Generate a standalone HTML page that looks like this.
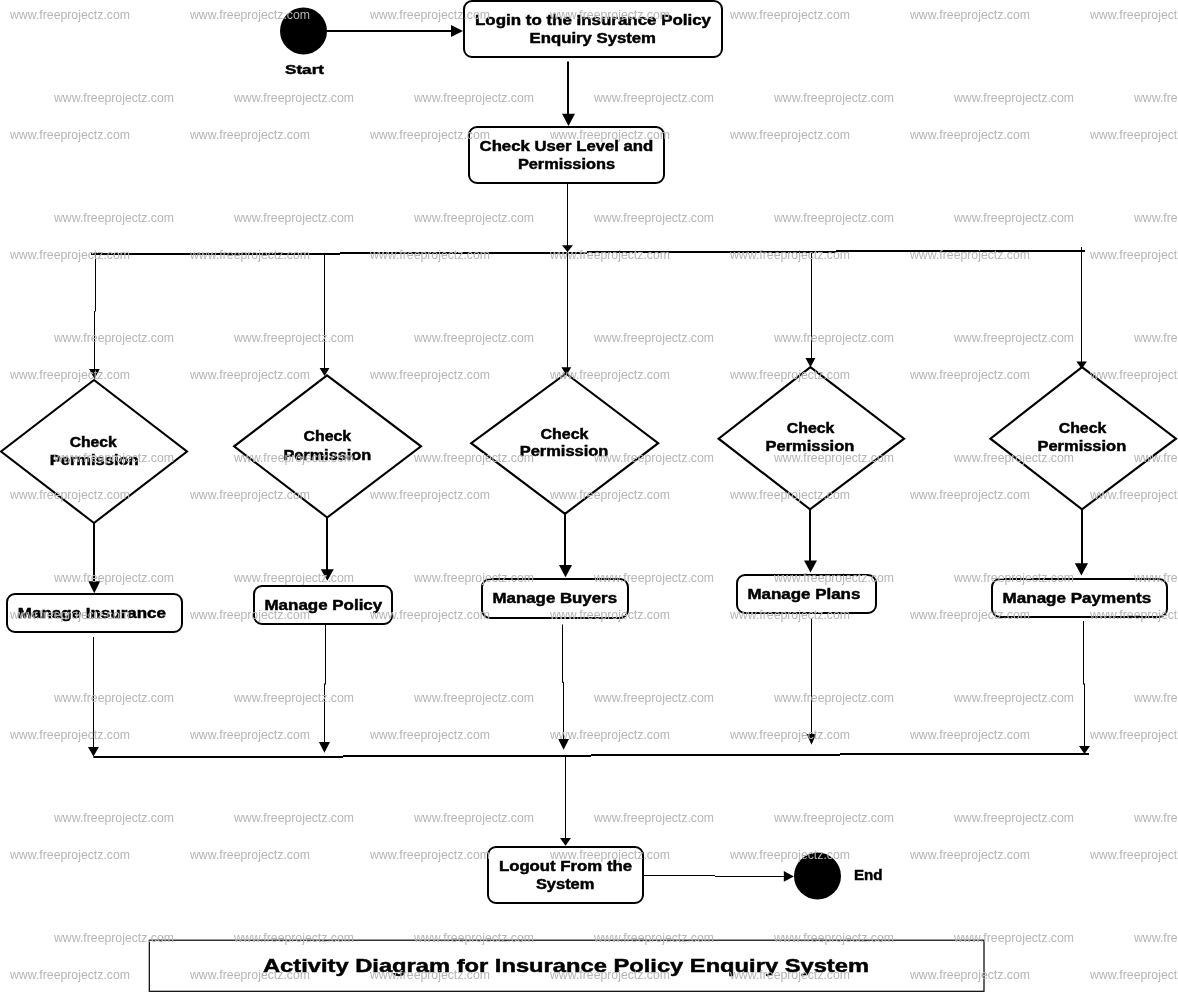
<!DOCTYPE html>
<html><head><meta charset="utf-8"><style>
html,body{margin:0;padding:0;background:#fff;width:1178px;height:994px;overflow:hidden}
svg{display:block;will-change:transform}
text{font-family:"Liberation Sans", sans-serif}
</style></head><body>
<svg width="1178" height="994" viewBox="0 0 1178 994">
<rect width="1178" height="994" fill="#fff"/>
<g>
<circle cx="303.5" cy="31" r="23.5" fill="#000"/>
<text x="285.0" y="74.4" font-size="13.5" font-weight="bold" textLength="39.0" lengthAdjust="spacingAndGlyphs" fill="#000" stroke="#000" stroke-width="0.45">Start</text>
<line x1="327" y1="31" x2="452" y2="31" stroke="#000" stroke-width="2"/>
<polygon points="451,25 463,31.0 451,37" fill="#000"/>
<rect x="464.0" y="1.0" width="258" height="56" rx="8" ry="8" fill="#fff" stroke="#000" stroke-width="2"/>
<text x="475.0" y="25.0" font-size="14" font-weight="bold" textLength="236.0" lengthAdjust="spacingAndGlyphs" fill="#000" stroke="#000" stroke-width="0.45">Login to the Insurance Policy</text>
<text x="529.6" y="42.8" font-size="14" font-weight="bold" textLength="126.4" lengthAdjust="spacingAndGlyphs" fill="#000" stroke="#000" stroke-width="0.45">Enquiry System</text>
<line x1="568" y1="61.5" x2="568" y2="115" stroke="#000" stroke-width="2"/>
<polygon points="562,113.7 575,113.7 568.5,126" fill="#000"/>
<rect x="469.0" y="127.0" width="195" height="56" rx="8" ry="8" fill="#fff" stroke="#000" stroke-width="2"/>
<text x="479.6" y="150.7" font-size="14" font-weight="bold" textLength="173.7" lengthAdjust="spacingAndGlyphs" fill="#000" stroke="#000" stroke-width="0.45">Check User Level and</text>
<text x="517.9" y="168.8" font-size="14" font-weight="bold" textLength="97.1" lengthAdjust="spacingAndGlyphs" fill="#000" stroke="#000" stroke-width="0.45">Permissions</text>
<line x1="567.5" y1="183" x2="567.5" y2="368" stroke="#000" stroke-width="1"/>
<polygon points="562,245.2 573,245.2 567.5,252" fill="#000"/>
<line x1="91" y1="254" x2="340" y2="254" stroke="#000" stroke-width="2"/>
<line x1="340" y1="253" x2="587" y2="253" stroke="#000" stroke-width="2"/>
<line x1="587" y1="252" x2="836" y2="252" stroke="#000" stroke-width="2"/>
<line x1="836" y1="251" x2="1085" y2="251" stroke="#000" stroke-width="2"/>
<line x1="95.5" y1="254" x2="95.5" y2="311.5" stroke="#000" stroke-width="1"/>
<line x1="94.5" y1="311" x2="94.5" y2="370" stroke="#000" stroke-width="1"/>
<polygon points="89.1,369 99.8,369 94.44999999999999,379" fill="#000"/>
<line x1="324.5" y1="253" x2="324.5" y2="369" stroke="#000" stroke-width="1"/>
<polygon points="319.6,368 329.5,368 324.55,376" fill="#000"/>
<line x1="811.5" y1="251" x2="811.5" y2="359" stroke="#000" stroke-width="1"/>
<polygon points="805.5,358.1 815.4,358.1 810.45,367.2" fill="#000"/>
<line x1="1081.5" y1="247" x2="1081.5" y2="362" stroke="#000" stroke-width="1"/>
<polygon points="1076.4,361.4 1086.9,361.4 1081.65,369" fill="#000"/>
<polygon points="561.4,367.2 571.3,367.2 566.3499999999999,375.3" fill="#000"/>
<polygon points="94,380 187,451.5 94,523 1,451.5" fill="#fff" stroke="#000" stroke-width="2.15" stroke-linejoin="miter"/>
<polygon points="327,375.3 421,446.3 327.2,517.5 234.1,446.3" fill="#fff" stroke="#000" stroke-width="2.15" stroke-linejoin="miter"/>
<polygon points="566,373.5 658.2,443.2 565,513.8 471.2,443.2" fill="#fff" stroke="#000" stroke-width="2.15" stroke-linejoin="miter"/>
<polygon points="810.4,367.2 904.1,438.7 810,509.3 718.6,438.7" fill="#fff" stroke="#000" stroke-width="2.15" stroke-linejoin="miter"/>
<polygon points="1082,367.2 1176,438.7 1082,509.3 990.4,438.7" fill="#fff" stroke="#000" stroke-width="2.15" stroke-linejoin="miter"/>
<text x="69.7" y="446.6" font-size="14" font-weight="bold" textLength="47.1" lengthAdjust="spacingAndGlyphs" fill="#000" stroke="#000" stroke-width="0.45">Check</text>
<text x="49.8" y="465.0" font-size="14" font-weight="bold" textLength="88.8" lengthAdjust="spacingAndGlyphs" fill="#000" stroke="#000" stroke-width="0.45">Permission</text>
<text x="303.6" y="441.4" font-size="14" font-weight="bold" textLength="47.6" lengthAdjust="spacingAndGlyphs" fill="#000" stroke="#000" stroke-width="0.45">Check</text>
<text x="283.4" y="459.5" font-size="14" font-weight="bold" textLength="87.8" lengthAdjust="spacingAndGlyphs" fill="#000" stroke="#000" stroke-width="0.45">Permission</text>
<text x="540.6" y="438.7" font-size="14" font-weight="bold" textLength="47.9" lengthAdjust="spacingAndGlyphs" fill="#000" stroke="#000" stroke-width="0.45">Check</text>
<text x="519.7" y="455.9" font-size="14" font-weight="bold" textLength="88.7" lengthAdjust="spacingAndGlyphs" fill="#000" stroke="#000" stroke-width="0.45">Permission</text>
<text x="786.8" y="433.2" font-size="14" font-weight="bold" textLength="47.6" lengthAdjust="spacingAndGlyphs" fill="#000" stroke="#000" stroke-width="0.45">Check</text>
<text x="765.6" y="450.8" font-size="14" font-weight="bold" textLength="88.7" lengthAdjust="spacingAndGlyphs" fill="#000" stroke="#000" stroke-width="0.45">Permission</text>
<text x="1058.7" y="433.2" font-size="14" font-weight="bold" textLength="47.6" lengthAdjust="spacingAndGlyphs" fill="#000" stroke="#000" stroke-width="0.45">Check</text>
<text x="1037.5" y="450.8" font-size="14" font-weight="bold" textLength="88.7" lengthAdjust="spacingAndGlyphs" fill="#000" stroke="#000" stroke-width="0.45">Permission</text>
<line x1="94" y1="523" x2="94" y2="582" stroke="#000" stroke-width="2"/>
<polygon points="88.3,581.3 100.2,581.3 94.25,593.2" fill="#000"/>
<line x1="327" y1="517.5" x2="327" y2="570" stroke="#000" stroke-width="2"/>
<polygon points="320.8,569.2 333.8,569.2 327.3,580.7" fill="#000"/>
<line x1="565" y1="514" x2="565" y2="565" stroke="#000" stroke-width="2"/>
<polygon points="559,564.9 572,564.9 565.5,577.2" fill="#000"/>
<line x1="810" y1="509" x2="810" y2="561" stroke="#000" stroke-width="2"/>
<polygon points="804,560.4 817,560.4 810.5,572.6" fill="#000"/>
<line x1="1082" y1="509" x2="1082" y2="564" stroke="#000" stroke-width="2"/>
<polygon points="1074.8,563.2 1088,563.2 1081.4,575.6" fill="#000"/>
<rect x="7.0" y="594.0" width="175" height="38" rx="8" ry="8" fill="#fff" stroke="#000" stroke-width="2"/>
<text x="17.8" y="617.8" font-size="14" font-weight="bold" textLength="148.2" lengthAdjust="spacingAndGlyphs" fill="#000" stroke="#000" stroke-width="0.45">Manage Insurance</text>
<rect x="254.0" y="586.0" width="138" height="38" rx="8" ry="8" fill="#fff" stroke="#000" stroke-width="2"/>
<text x="264.5" y="609.9" font-size="14" font-weight="bold" textLength="117.7" lengthAdjust="spacingAndGlyphs" fill="#000" stroke="#000" stroke-width="0.45">Manage Policy</text>
<rect x="482.0" y="579.0" width="146" height="39" rx="8" ry="8" fill="#fff" stroke="#000" stroke-width="2"/>
<text x="492.6" y="602.7" font-size="14" font-weight="bold" textLength="124.4" lengthAdjust="spacingAndGlyphs" fill="#000" stroke="#000" stroke-width="0.45">Manage Buyers</text>
<rect x="737.0" y="575.0" width="139" height="38" rx="8" ry="8" fill="#fff" stroke="#000" stroke-width="2"/>
<text x="747.5" y="598.6" font-size="14" font-weight="bold" textLength="112.8" lengthAdjust="spacingAndGlyphs" fill="#000" stroke="#000" stroke-width="0.45">Manage Plans</text>
<rect x="992.0" y="579.0" width="175" height="38" rx="8" ry="8" fill="#fff" stroke="#000" stroke-width="2"/>
<text x="1002.6" y="602.7" font-size="14" font-weight="bold" textLength="148.6" lengthAdjust="spacingAndGlyphs" fill="#000" stroke="#000" stroke-width="0.45">Manage Payments</text>
<line x1="93.5" y1="637" x2="93.5" y2="748" stroke="#000" stroke-width="1"/>
<polygon points="88,747 98.9,747 93.45,756.6" fill="#000"/>
<line x1="325.5" y1="625" x2="325.5" y2="684.5" stroke="#000" stroke-width="1"/>
<line x1="324.5" y1="683.5" x2="324.5" y2="743" stroke="#000" stroke-width="1"/>
<polygon points="318.9,742 330,742 324.45,752.8" fill="#000"/>
<line x1="562.5" y1="624.5" x2="562.5" y2="682.75" stroke="#000" stroke-width="1"/>
<line x1="563.5" y1="681.75" x2="563.5" y2="740" stroke="#000" stroke-width="1"/>
<polygon points="558.2,738.9 569,738.9 563.6,749.8" fill="#000"/>
<line x1="811.5" y1="618.4" x2="811.5" y2="735" stroke="#000" stroke-width="1"/>
<polygon points="806.7,733.9 816.2,733.9 811.45,744.8" fill="#000"/>
<line x1="1083.5" y1="621" x2="1083.5" y2="684.5" stroke="#000" stroke-width="1"/>
<line x1="1084.5" y1="683.5" x2="1084.5" y2="747" stroke="#000" stroke-width="1"/>
<polygon points="1079,746.1 1090,746.1 1084.5,754" fill="#000"/>
<line x1="93.4" y1="757" x2="343" y2="757" stroke="#000" stroke-width="2"/>
<line x1="343" y1="756" x2="591" y2="756" stroke="#000" stroke-width="2"/>
<line x1="591" y1="755" x2="840" y2="755" stroke="#000" stroke-width="2"/>
<line x1="840" y1="754" x2="1089" y2="754" stroke="#000" stroke-width="2"/>
<line x1="565.5" y1="756" x2="565.5" y2="839" stroke="#000" stroke-width="1"/>
<polygon points="560,838 571,838 565.5,845.7" fill="#000"/>
<rect x="488.0" y="847.0" width="155" height="56" rx="8" ry="8" fill="#fff" stroke="#000" stroke-width="2"/>
<text x="498.9" y="870.7" font-size="14" font-weight="bold" textLength="133.2" lengthAdjust="spacingAndGlyphs" fill="#000" stroke="#000" stroke-width="0.45">Logout From the</text>
<text x="535.9" y="888.5" font-size="14" font-weight="bold" textLength="58.5" lengthAdjust="spacingAndGlyphs" fill="#000" stroke="#000" stroke-width="0.45">System</text>
<line x1="643.5" y1="875.5" x2="715" y2="875.5" stroke="#000" stroke-width="1"/>
<line x1="715" y1="876.5" x2="785" y2="876.5" stroke="#000" stroke-width="1"/>
<polygon points="783.8,871 793.9,876.4 783.8,881.8" fill="#000"/>
<circle cx="817.5" cy="876" r="23.5" fill="#000"/>
<text x="853.9" y="879.8" font-size="14" font-weight="bold" textLength="28.5" lengthAdjust="spacingAndGlyphs" fill="#000" stroke="#000" stroke-width="0.45">End</text>
<rect x="149.3" y="940.2" width="834.7" height="51.1" fill="#fff" stroke="#000" stroke-width="1.2"/>
<text x="263.0" y="971.5" font-size="18.5" font-weight="bold" textLength="606.0" lengthAdjust="spacingAndGlyphs" fill="#000" stroke="#000" stroke-width="0.45">Activity Diagram for Insurance Policy Enquiry System</text>
</g>
<g font-size="12.2" fill="#b5b5b5">
<text x="10" y="19" textLength="120" lengthAdjust="spacingAndGlyphs">www.freeprojectz.com</text>
<text x="54" y="102" textLength="120" lengthAdjust="spacingAndGlyphs">www.freeprojectz.com</text>
<text x="190" y="19" textLength="120" lengthAdjust="spacingAndGlyphs">www.freeprojectz.com</text>
<text x="234" y="102" textLength="120" lengthAdjust="spacingAndGlyphs">www.freeprojectz.com</text>
<text x="370" y="19" textLength="120" lengthAdjust="spacingAndGlyphs">www.freeprojectz.com</text>
<text x="414" y="102" textLength="120" lengthAdjust="spacingAndGlyphs">www.freeprojectz.com</text>
<text x="550" y="19" textLength="120" lengthAdjust="spacingAndGlyphs">www.freeprojectz.com</text>
<text x="594" y="102" textLength="120" lengthAdjust="spacingAndGlyphs">www.freeprojectz.com</text>
<text x="730" y="19" textLength="120" lengthAdjust="spacingAndGlyphs">www.freeprojectz.com</text>
<text x="774" y="102" textLength="120" lengthAdjust="spacingAndGlyphs">www.freeprojectz.com</text>
<text x="910" y="19" textLength="120" lengthAdjust="spacingAndGlyphs">www.freeprojectz.com</text>
<text x="954" y="102" textLength="120" lengthAdjust="spacingAndGlyphs">www.freeprojectz.com</text>
<text x="1090" y="19" textLength="120" lengthAdjust="spacingAndGlyphs">www.freeprojectz.com</text>
<text x="1134" y="102" textLength="120" lengthAdjust="spacingAndGlyphs">www.freeprojectz.com</text>
<text x="10" y="139" textLength="120" lengthAdjust="spacingAndGlyphs">www.freeprojectz.com</text>
<text x="54" y="222" textLength="120" lengthAdjust="spacingAndGlyphs">www.freeprojectz.com</text>
<text x="190" y="139" textLength="120" lengthAdjust="spacingAndGlyphs">www.freeprojectz.com</text>
<text x="234" y="222" textLength="120" lengthAdjust="spacingAndGlyphs">www.freeprojectz.com</text>
<text x="370" y="139" textLength="120" lengthAdjust="spacingAndGlyphs">www.freeprojectz.com</text>
<text x="414" y="222" textLength="120" lengthAdjust="spacingAndGlyphs">www.freeprojectz.com</text>
<text x="550" y="139" textLength="120" lengthAdjust="spacingAndGlyphs">www.freeprojectz.com</text>
<text x="594" y="222" textLength="120" lengthAdjust="spacingAndGlyphs">www.freeprojectz.com</text>
<text x="730" y="139" textLength="120" lengthAdjust="spacingAndGlyphs">www.freeprojectz.com</text>
<text x="774" y="222" textLength="120" lengthAdjust="spacingAndGlyphs">www.freeprojectz.com</text>
<text x="910" y="139" textLength="120" lengthAdjust="spacingAndGlyphs">www.freeprojectz.com</text>
<text x="954" y="222" textLength="120" lengthAdjust="spacingAndGlyphs">www.freeprojectz.com</text>
<text x="1090" y="139" textLength="120" lengthAdjust="spacingAndGlyphs">www.freeprojectz.com</text>
<text x="1134" y="222" textLength="120" lengthAdjust="spacingAndGlyphs">www.freeprojectz.com</text>
<text x="10" y="259" textLength="120" lengthAdjust="spacingAndGlyphs">www.freeprojectz.com</text>
<text x="54" y="342" textLength="120" lengthAdjust="spacingAndGlyphs">www.freeprojectz.com</text>
<text x="190" y="259" textLength="120" lengthAdjust="spacingAndGlyphs">www.freeprojectz.com</text>
<text x="234" y="342" textLength="120" lengthAdjust="spacingAndGlyphs">www.freeprojectz.com</text>
<text x="370" y="259" textLength="120" lengthAdjust="spacingAndGlyphs">www.freeprojectz.com</text>
<text x="414" y="342" textLength="120" lengthAdjust="spacingAndGlyphs">www.freeprojectz.com</text>
<text x="550" y="259" textLength="120" lengthAdjust="spacingAndGlyphs">www.freeprojectz.com</text>
<text x="594" y="342" textLength="120" lengthAdjust="spacingAndGlyphs">www.freeprojectz.com</text>
<text x="730" y="259" textLength="120" lengthAdjust="spacingAndGlyphs">www.freeprojectz.com</text>
<text x="774" y="342" textLength="120" lengthAdjust="spacingAndGlyphs">www.freeprojectz.com</text>
<text x="910" y="259" textLength="120" lengthAdjust="spacingAndGlyphs">www.freeprojectz.com</text>
<text x="954" y="342" textLength="120" lengthAdjust="spacingAndGlyphs">www.freeprojectz.com</text>
<text x="1090" y="259" textLength="120" lengthAdjust="spacingAndGlyphs">www.freeprojectz.com</text>
<text x="1134" y="342" textLength="120" lengthAdjust="spacingAndGlyphs">www.freeprojectz.com</text>
<text x="10" y="379" textLength="120" lengthAdjust="spacingAndGlyphs">www.freeprojectz.com</text>
<text x="54" y="462" textLength="120" lengthAdjust="spacingAndGlyphs">www.freeprojectz.com</text>
<text x="190" y="379" textLength="120" lengthAdjust="spacingAndGlyphs">www.freeprojectz.com</text>
<text x="234" y="462" textLength="120" lengthAdjust="spacingAndGlyphs">www.freeprojectz.com</text>
<text x="370" y="379" textLength="120" lengthAdjust="spacingAndGlyphs">www.freeprojectz.com</text>
<text x="414" y="462" textLength="120" lengthAdjust="spacingAndGlyphs">www.freeprojectz.com</text>
<text x="550" y="379" textLength="120" lengthAdjust="spacingAndGlyphs">www.freeprojectz.com</text>
<text x="594" y="462" textLength="120" lengthAdjust="spacingAndGlyphs">www.freeprojectz.com</text>
<text x="730" y="379" textLength="120" lengthAdjust="spacingAndGlyphs">www.freeprojectz.com</text>
<text x="774" y="462" textLength="120" lengthAdjust="spacingAndGlyphs">www.freeprojectz.com</text>
<text x="910" y="379" textLength="120" lengthAdjust="spacingAndGlyphs">www.freeprojectz.com</text>
<text x="954" y="462" textLength="120" lengthAdjust="spacingAndGlyphs">www.freeprojectz.com</text>
<text x="1090" y="379" textLength="120" lengthAdjust="spacingAndGlyphs">www.freeprojectz.com</text>
<text x="1134" y="462" textLength="120" lengthAdjust="spacingAndGlyphs">www.freeprojectz.com</text>
<text x="10" y="499" textLength="120" lengthAdjust="spacingAndGlyphs">www.freeprojectz.com</text>
<text x="54" y="582" textLength="120" lengthAdjust="spacingAndGlyphs">www.freeprojectz.com</text>
<text x="190" y="499" textLength="120" lengthAdjust="spacingAndGlyphs">www.freeprojectz.com</text>
<text x="234" y="582" textLength="120" lengthAdjust="spacingAndGlyphs">www.freeprojectz.com</text>
<text x="370" y="499" textLength="120" lengthAdjust="spacingAndGlyphs">www.freeprojectz.com</text>
<text x="414" y="582" textLength="120" lengthAdjust="spacingAndGlyphs">www.freeprojectz.com</text>
<text x="550" y="499" textLength="120" lengthAdjust="spacingAndGlyphs">www.freeprojectz.com</text>
<text x="594" y="582" textLength="120" lengthAdjust="spacingAndGlyphs">www.freeprojectz.com</text>
<text x="730" y="499" textLength="120" lengthAdjust="spacingAndGlyphs">www.freeprojectz.com</text>
<text x="774" y="582" textLength="120" lengthAdjust="spacingAndGlyphs">www.freeprojectz.com</text>
<text x="910" y="499" textLength="120" lengthAdjust="spacingAndGlyphs">www.freeprojectz.com</text>
<text x="954" y="582" textLength="120" lengthAdjust="spacingAndGlyphs">www.freeprojectz.com</text>
<text x="1090" y="499" textLength="120" lengthAdjust="spacingAndGlyphs">www.freeprojectz.com</text>
<text x="1134" y="582" textLength="120" lengthAdjust="spacingAndGlyphs">www.freeprojectz.com</text>
<text x="10" y="619" textLength="120" lengthAdjust="spacingAndGlyphs">www.freeprojectz.com</text>
<text x="54" y="702" textLength="120" lengthAdjust="spacingAndGlyphs">www.freeprojectz.com</text>
<text x="190" y="619" textLength="120" lengthAdjust="spacingAndGlyphs">www.freeprojectz.com</text>
<text x="234" y="702" textLength="120" lengthAdjust="spacingAndGlyphs">www.freeprojectz.com</text>
<text x="370" y="619" textLength="120" lengthAdjust="spacingAndGlyphs">www.freeprojectz.com</text>
<text x="414" y="702" textLength="120" lengthAdjust="spacingAndGlyphs">www.freeprojectz.com</text>
<text x="550" y="619" textLength="120" lengthAdjust="spacingAndGlyphs">www.freeprojectz.com</text>
<text x="594" y="702" textLength="120" lengthAdjust="spacingAndGlyphs">www.freeprojectz.com</text>
<text x="730" y="619" textLength="120" lengthAdjust="spacingAndGlyphs">www.freeprojectz.com</text>
<text x="774" y="702" textLength="120" lengthAdjust="spacingAndGlyphs">www.freeprojectz.com</text>
<text x="910" y="619" textLength="120" lengthAdjust="spacingAndGlyphs">www.freeprojectz.com</text>
<text x="954" y="702" textLength="120" lengthAdjust="spacingAndGlyphs">www.freeprojectz.com</text>
<text x="1090" y="619" textLength="120" lengthAdjust="spacingAndGlyphs">www.freeprojectz.com</text>
<text x="1134" y="702" textLength="120" lengthAdjust="spacingAndGlyphs">www.freeprojectz.com</text>
<text x="10" y="739" textLength="120" lengthAdjust="spacingAndGlyphs">www.freeprojectz.com</text>
<text x="54" y="822" textLength="120" lengthAdjust="spacingAndGlyphs">www.freeprojectz.com</text>
<text x="190" y="739" textLength="120" lengthAdjust="spacingAndGlyphs">www.freeprojectz.com</text>
<text x="234" y="822" textLength="120" lengthAdjust="spacingAndGlyphs">www.freeprojectz.com</text>
<text x="370" y="739" textLength="120" lengthAdjust="spacingAndGlyphs">www.freeprojectz.com</text>
<text x="414" y="822" textLength="120" lengthAdjust="spacingAndGlyphs">www.freeprojectz.com</text>
<text x="550" y="739" textLength="120" lengthAdjust="spacingAndGlyphs">www.freeprojectz.com</text>
<text x="594" y="822" textLength="120" lengthAdjust="spacingAndGlyphs">www.freeprojectz.com</text>
<text x="730" y="739" textLength="120" lengthAdjust="spacingAndGlyphs">www.freeprojectz.com</text>
<text x="774" y="822" textLength="120" lengthAdjust="spacingAndGlyphs">www.freeprojectz.com</text>
<text x="910" y="739" textLength="120" lengthAdjust="spacingAndGlyphs">www.freeprojectz.com</text>
<text x="954" y="822" textLength="120" lengthAdjust="spacingAndGlyphs">www.freeprojectz.com</text>
<text x="1090" y="739" textLength="120" lengthAdjust="spacingAndGlyphs">www.freeprojectz.com</text>
<text x="1134" y="822" textLength="120" lengthAdjust="spacingAndGlyphs">www.freeprojectz.com</text>
<text x="10" y="859" textLength="120" lengthAdjust="spacingAndGlyphs">www.freeprojectz.com</text>
<text x="54" y="942" textLength="120" lengthAdjust="spacingAndGlyphs">www.freeprojectz.com</text>
<text x="190" y="859" textLength="120" lengthAdjust="spacingAndGlyphs">www.freeprojectz.com</text>
<text x="234" y="942" textLength="120" lengthAdjust="spacingAndGlyphs">www.freeprojectz.com</text>
<text x="370" y="859" textLength="120" lengthAdjust="spacingAndGlyphs">www.freeprojectz.com</text>
<text x="414" y="942" textLength="120" lengthAdjust="spacingAndGlyphs">www.freeprojectz.com</text>
<text x="550" y="859" textLength="120" lengthAdjust="spacingAndGlyphs">www.freeprojectz.com</text>
<text x="594" y="942" textLength="120" lengthAdjust="spacingAndGlyphs">www.freeprojectz.com</text>
<text x="730" y="859" textLength="120" lengthAdjust="spacingAndGlyphs">www.freeprojectz.com</text>
<text x="774" y="942" textLength="120" lengthAdjust="spacingAndGlyphs">www.freeprojectz.com</text>
<text x="910" y="859" textLength="120" lengthAdjust="spacingAndGlyphs">www.freeprojectz.com</text>
<text x="954" y="942" textLength="120" lengthAdjust="spacingAndGlyphs">www.freeprojectz.com</text>
<text x="1090" y="859" textLength="120" lengthAdjust="spacingAndGlyphs">www.freeprojectz.com</text>
<text x="1134" y="942" textLength="120" lengthAdjust="spacingAndGlyphs">www.freeprojectz.com</text>
<text x="10" y="979" textLength="120" lengthAdjust="spacingAndGlyphs">www.freeprojectz.com</text>
<text x="190" y="979" textLength="120" lengthAdjust="spacingAndGlyphs">www.freeprojectz.com</text>
<text x="370" y="979" textLength="120" lengthAdjust="spacingAndGlyphs">www.freeprojectz.com</text>
<text x="550" y="979" textLength="120" lengthAdjust="spacingAndGlyphs">www.freeprojectz.com</text>
<text x="730" y="979" textLength="120" lengthAdjust="spacingAndGlyphs">www.freeprojectz.com</text>
<text x="910" y="979" textLength="120" lengthAdjust="spacingAndGlyphs">www.freeprojectz.com</text>
<text x="1090" y="979" textLength="120" lengthAdjust="spacingAndGlyphs">www.freeprojectz.com</text>
</g>
</svg>
</body></html>
